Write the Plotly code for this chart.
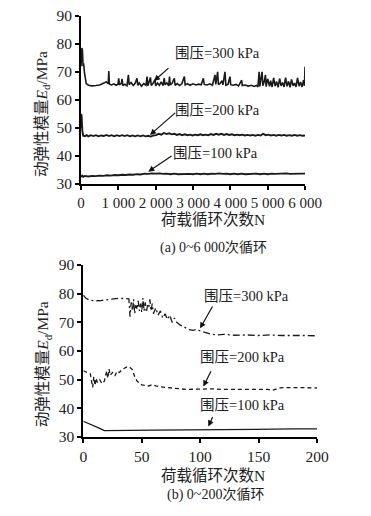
import plotly.graph_objects as go

W, H = 371, 516
OFF = 8  # page body margin that the browser adds around the figure

# ---------------- (a) 0~6000 cycles ----------------
a300_N = [0, 10, 25, 40, 55, 70, 90, 110, 140, 200, 300, 400, 500, 600, 680, 730, 745, 760, 820, 880,
          940, 990, 1010, 1030, 1080, 1100, 1120, 1170, 1230, 1270, 1290, 1340, 1400, 1450, 1500, 1520, 1560, 1620, 1680, 1740,
          1770, 1790, 1820, 1860, 1880, 1930, 1980, 2000, 2050, 2100, 2150, 2200, 2230, 2250, 2300, 2350, 2370, 2390, 2440, 2500,
          2520, 2580, 2640, 2700, 2770, 2790, 2850, 2920, 3000, 3080, 3150, 3220, 3277, 3300, 3380, 3450, 3520, 3590, 3610, 3660,
          3680, 3720, 3780, 3800, 3857, 3880, 3940, 3990, 4010, 4080, 4150, 4220, 4304, 4320, 4400, 4480, 4560, 4640, 4700, 4740,
          4770, 4790, 4830, 4850, 4870, 4910, 4940, 4960, 5000, 5050, 5080, 5120, 5160, 5200, 5240, 5280, 5320, 5360, 5400, 5440,
          5480, 5520, 5560, 5600, 5640, 5680, 5720, 5760, 5800, 5840, 5880, 5920, 5960, 5985, 6000]
a300_E = [72, 76, 78.5, 77.5, 72, 73, 70, 68, 65.8, 65.2, 65.0, 65.1, 65.3, 65.9, 66.4, 65.8, 70.3, 65.6, 65.3, 65.7,
          65.2, 65.6, 67.7, 65.3, 65.9, 67.5, 65.1, 65.6, 65.0, 68.9, 65.4, 66.2, 65.1, 65.9, 67.7, 65.2, 66.0, 64.9, 65.8, 65.2,
          68.3, 65.0, 66.3, 68.0, 65.1, 65.9, 67.2, 65.0, 66.0, 65.2, 66.4, 65.1, 67.8, 65.4, 66.1, 65.0, 68.3, 65.3, 65.9, 67.7,
          65.2, 65.8, 65.1, 65.7, 68.3, 65.3, 65.8, 65.2, 65.7, 65.3, 65.6, 65.4, 67.7, 65.5, 65.3, 65.7, 65.2, 68.9, 65.5, 70.0,
          65.4, 65.8, 66.8, 65.3, 70.0, 65.2, 65.6, 68.3, 65.4, 65.2, 65.5, 65.0, 67.0, 65.1, 65.3, 64.9, 65.2, 64.8, 65.1, 64.6,
          70.0, 64.8, 68.5, 70.0, 65.0, 66.5, 68.9, 64.7, 67.5, 64.8, 66.8, 64.6, 67.8, 64.9, 66.5, 64.5, 67.6, 65.0, 66.2, 64.6,
          67.9, 64.8, 66.6, 64.5, 67.3, 65.0, 66.0, 64.6, 67.8, 64.9, 66.4, 64.6, 67.0, 65.0, 71.8]

a200_N = [0, 8, 20, 35, 60, 100, 150, 200, 260, 330, 400, 470, 540, 610, 680, 750, 820, 890, 960, 1030,
          1100, 1170, 1240, 1310, 1380, 1450, 1520, 1590, 1660, 1730, 1800, 1870, 1940, 2010, 2080, 2150, 2220, 2290, 2360, 2430,
          2500, 2570, 2640, 2710, 2780, 2850, 2920, 2990, 3060, 3130, 3200, 3270, 3340, 3410, 3480, 3550, 3620, 3690, 3760, 3830,
          3900, 3970, 4040, 4110, 4180, 4250, 4320, 4390, 4460, 4530, 4600, 4670, 4740, 4810, 4880, 4950, 5020, 5090, 5160, 5230,
          5300, 5370, 5440, 5510, 5580, 5650, 5720, 5790, 5860, 5930, 6000]
a200_E = [50, 55, 53.6, 49, 47.2, 47.0, 47.4, 47.0, 47.4, 47.1, 47.4, 47.0, 47.3, 47.1, 47.5, 47.1, 47.4, 47.0, 47.4, 47.1,
          47.4, 47.1, 47.4, 47.0, 47.3, 47.0, 47.3, 47.0, 47.3, 47.0, 47.2, 46.9, 47.3, 47.4, 47.9, 47.6, 48.2, 47.8, 48.1, 47.7,
          47.9, 47.5, 47.8, 47.4, 47.7, 47.4, 47.6, 47.3, 47.6, 47.4, 47.7, 47.4, 47.6, 47.4, 47.8, 47.5, 47.9, 47.6, 47.9, 47.5,
          47.8, 47.5, 47.7, 47.4, 47.6, 47.4, 47.6, 47.3, 47.5, 47.3, 47.5, 47.2, 47.5, 47.3, 47.9, 47.4, 47.6, 47.3, 47.5, 47.2,
          47.5, 47.3, 47.5, 47.2, 47.4, 47.2, 47.5, 47.2, 47.4, 47.2, 47.3]

a100_N = [0, 30, 60, 100, 200, 300, 400, 500, 600, 700, 800, 900, 1000, 1100, 1200, 1300, 1400, 1500, 1600, 1700,
          1800, 1900, 2000, 2100, 2200, 2300, 2400, 2500, 2600, 2700, 2800, 2900, 3000, 3100, 3200, 3300, 3400, 3500, 3600, 3700,
          3800, 3900, 4000, 4100, 4200, 4300, 4400, 4500, 4600, 4700, 4800, 4900, 5000, 5100, 5200, 5300, 5400, 5500, 5600, 5700,
          5800, 5900, 6000]
a100_E = [32.5, 33.0, 32.6, 32.9, 32.7, 32.9, 32.8, 33.0, 32.9, 33.1, 33.0, 33.2, 33.1, 33.3, 33.2, 33.4, 33.3, 33.5, 33.4, 33.7,
          33.6, 33.8, 33.7, 33.8, 33.6, 33.7, 33.5, 33.7, 33.5, 33.6, 33.5, 33.6, 33.5, 33.7, 33.5, 33.7, 33.5, 33.7, 33.6, 33.8,
          33.6, 33.7, 33.5, 33.7, 33.5, 33.7, 33.5, 33.6, 33.5, 33.7, 33.5, 33.7, 33.5, 33.7, 33.6, 33.7, 33.6, 33.8, 33.6, 33.7,
          33.6, 33.7, 33.7]

# ---------------- (b) 0~200 cycles ----------------
b300_N = [0, 2, 5, 10, 15, 20, 25, 30, 35, 39, 40, 41, 42, 43, 44, 45, 46, 47, 48, 49,
          50, 51, 52, 53, 54, 55, 56, 57, 58, 59, 60, 62, 64, 66, 68, 70, 72, 74, 76, 78,
          80, 83, 86, 90, 94, 97, 100, 105, 110, 115, 120, 130, 140, 150, 160, 170, 180, 190, 200]
b300_E = [79.5, 78.5, 77.8, 77.5, 77.6, 77.9, 78.1, 78.4, 78.3, 78.2, 72, 77, 74, 78, 73, 76, 74.5, 77.5, 74, 76.5,
          73.5, 78.5, 74, 77, 73.5, 76, 75, 78, 74, 76.5, 73, 75, 72.5, 74, 71.5, 73, 71, 72.5, 70, 71.5,
          70, 69, 68.5, 67.5, 67.2, 67.5, 67.0, 66.3, 65.8, 65.6, 65.8, 65.5, 65.6, 65.4, 65.6, 65.4, 65.5, 65.4, 65.3]

b200_N = [0, 3, 6, 8, 9, 10, 11, 12, 14, 16, 18, 20, 21, 22, 23, 25, 27, 29, 31, 33,
          36, 38, 40, 42, 44, 46, 48, 50, 53, 56, 59, 62, 66, 70, 75, 80, 88, 100, 110, 120,
          130, 140, 150, 158, 162, 166, 170, 180, 190, 200]
b200_E = [53.1, 52.5, 52, 47.3, 51, 48, 50.5, 49, 50, 48.6, 49.5, 53, 50.5, 53.7, 51.5, 52.5, 51.3, 53, 52.5, 53.5,
          54, 54.6, 54.2, 53.5, 51, 49.5, 48.8, 48.2, 48.0, 47.8, 48.3, 47.8, 47.5, 47.3, 47.0, 46.8, 46.6, 46.7, 46.8, 46.6,
          46.6, 46.7, 46.7, 46.6, 46.3, 46.9, 47.2, 47.3, 47.2, 47.1]

b100_N = [0, 3, 6, 10, 14, 18, 25, 40, 60, 80, 100, 120, 140, 160, 180, 200]
b100_E = [35.5, 35.0, 34.5, 33.8, 33.0, 32.2, 32.3, 32.3, 32.4, 32.5, 32.5, 32.6, 32.6, 32.7, 32.8, 32.8]

a_xticks = [0, 1000, 2000, 3000, 4000, 5000, 6000]
a_xticktext = ["0", "1 000", "2 000", "3 000", "4 000", "5 000", "6 000"]
b_xticks = [0, 50, 100, 150, 200]
y_ticks = [30, 40, 50, 60, 70, 80, 90]

labels = ["围压=300 kPa", "围压=200 kPa", "围压=100 kPa"]
ytitle = "动弹性模量<i>E</i><sub>d</sub>/MPa"
xtitle = "荷载循环次数N"
cap_a = "(a) 0~6 000次循环"
cap_b = "(b) 0~200次循环"

FONT = "'Liberation Serif', 'Times New Roman', 'Noto Sans CJK SC', serif"

FW, FH = W - OFF, H - OFF


def px(x):
    return (x - OFF) / FW


def py(y):
    return 1 - (y - OFF) / FH


fig = go.Figure()
line_c = "#1a1a1a"
fig.add_trace(go.Scatter(x=a300_N, y=a300_E, mode="lines", line=dict(color=line_c, width=1.6), xaxis="x", yaxis="y"))
fig.add_trace(go.Scatter(x=a200_N, y=a200_E, mode="lines", line=dict(color=line_c, width=1.9), xaxis="x", yaxis="y"))
fig.add_trace(go.Scatter(x=a100_N, y=a100_E, mode="lines", line=dict(color=line_c, width=1.9), xaxis="x", yaxis="y"))
fig.add_trace(go.Scatter(x=b300_N, y=b300_E, mode="lines", line=dict(color=line_c, width=1.3, dash="7px,3px,2px,3px"), xaxis="x2", yaxis="y2"))
fig.add_trace(go.Scatter(x=b200_N, y=b200_E, mode="lines", line=dict(color=line_c, width=1.3, dash="4px,3px"), xaxis="x2", yaxis="y2"))
fig.add_trace(go.Scatter(x=b100_N, y=b100_E, mode="lines", line=dict(color=line_c, width=1.3), xaxis="x2", yaxis="y2"))

axis_common = dict(showgrid=False, zeroline=False, showline=True, linecolor="black", linewidth=2,
                   ticks="outside", ticklen=4, tickwidth=1.5, tickcolor="black", automargin=False,
                   tickangle=0)
xfont = dict(family=FONT, size=15, color="#222")
yfont = dict(family=FONT, size=15.5, color="#222")

fig.update_layout(
    width=FW, height=FH, margin=dict(l=0, r=0, t=0, b=0, autoexpand=False),
    paper_bgcolor="white", plot_bgcolor="white", showlegend=False,
    xaxis=dict(domain=[px(81), px(305)], range=[0, 6000], tickvals=a_xticks, ticktext=a_xticktext,
               anchor="y", tickfont=xfont, **axis_common),
    yaxis=dict(domain=[py(184), py(15.7)], range=[30, 90], tickvals=y_ticks, anchor="x", tickfont=yfont, **axis_common),
    xaxis2=dict(domain=[px(83.3), px(317)], range=[0, 200], tickvals=b_xticks, anchor="y2", tickfont=yfont, **axis_common),
    yaxis2=dict(domain=[py(437), py(265)], range=[30, 90], tickvals=y_ticks, anchor="x2", tickfont=yfont, **axis_common),
)

ann = []
# text labels
for (cx, cy), t in zip([(217, 53), (217.5, 110), (215, 153)], labels):
    ann.append(dict(x=px(cx), y=py(cy), xref="paper", yref="paper", text=t, showarrow=False,
                    font=dict(family=FONT, size=14.5, color="#222"), xanchor="center", yanchor="middle"))
for (cx, cy), t in zip([(246, 295.7), (242.5, 356.7), (242.5, 405)], labels):
    ann.append(dict(x=px(cx), y=py(cy), xref="paper", yref="paper", text=t, showarrow=False,
                    font=dict(family=FONT, size=14.5, color="#222"), xanchor="center", yanchor="middle"))
# arrows
for (hx, hy, ax, ay) in [(1955, 66.7, 16, -14.3), (1848, 47.5, 26.7, -23.3), (1803, 34.4, 24.7, -16.7)]:
    ann.append(dict(x=hx, y=hy, xref="x", yref="y", text="", showarrow=True, ax=ax, ay=ay,
                    arrowhead=2, arrowsize=1, arrowwidth=1.2, arrowcolor="#111"))
for (hx, hy, ax, ay) in [(99.9, 67.9, 13.3, -23.3), (102.7, 47.6, 8.4, -16.7), (107, 33.7, 5, -11)]:
    ann.append(dict(x=hx, y=hy, xref="x2", yref="y2", text="", showarrow=True, ax=ax, ay=ay,
                    arrowhead=2, arrowsize=1, arrowwidth=1.2, arrowcolor="#111"))
# titles
for (cx, cy, t, sz) in [(213, 220, xtitle, 15.5), (213, 248, cap_a, 14), (213, 475, xtitle, 15.5), (215, 495, cap_b, 14)]:
    ann.append(dict(x=px(cx), y=py(cy), xref="paper", yref="paper", text=t, showarrow=False,
                    font=dict(family=FONT, size=sz, color="#222"), xanchor="center", yanchor="middle"))
for (cx, cy) in [(43, 114), (43.3, 364)]:
    ann.append(dict(x=px(cx), y=py(cy), xref="paper", yref="paper", text=ytitle, showarrow=False, textangle=-90,
                    font=dict(family=FONT, size=15.5, color="#222"), xanchor="center", yanchor="middle"))
fig.update_layout(annotations=ann)

fig.write_html("out.html")
